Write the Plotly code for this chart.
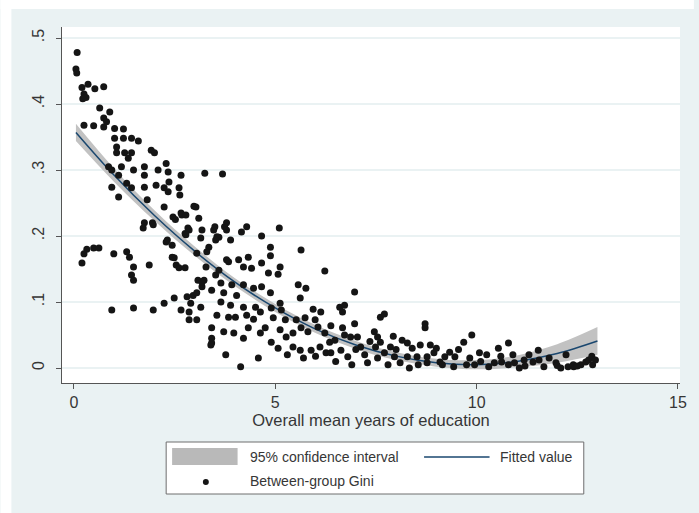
import plotly.graph_objects as go

# Overall mean years of education (x) and between-group Gini (y) per observation
edu_years = [
    0.08, 0.05, 0.07, 0.20, 0.25, 0.30, 0.35, 0.22, 0.52, 0.74, 0.64, 0.89, 0.74, 0.25, 0.49,
    0.74, 0.81, 1.01, 1.23, 1.01, 1.23, 1.43, 1.60, 1.06, 1.06, 1.26, 1.43, 1.35, 1.92, 2.00,
    0.86, 0.94, 1.18, 1.48, 1.75, 1.75, 2.09, 2.29, 2.34, 2.66, 0.94, 1.11, 1.31, 1.43, 1.75,
    2.04, 2.24, 2.34, 2.61, 2.36, 1.11, 1.82, 2.24, 2.98, 3.25, 3.69, 2.63, 2.46, 2.68, 2.86,
    3.10, 3.15, 3.35, 3.47, 3.60, 3.79, 3.89, 4.16, 4.29, 4.66, 4.88, 5.10, 5.64, 2.32, 2.44,
    1.75, 1.95, 1.72, 2.76, 3.18, 0.32, 0.49, 0.62, 0.25, 0.20, 0.99, 1.31, 1.38, 1.48, 1.43,
    1.48, 1.87, 0.94, 1.48, 1.97, 2.24, 2.49, 2.66, 2.86, 2.81, 2.90, 1.97, 2.52, 2.66, 2.78,
    2.83, 2.78, 2.29, 2.49, 2.54, 2.61, 2.76, 3.08, 2.96, 2.86, 3.03, 3.50, 3.74, 3.79, 3.55,
    3.52, 3.05, 3.30, 4.33, 4.88, 3.79, 4.66, 5.12, 3.28, 4.21, 4.83, 5.07, 6.23, 3.52, 3.65,
    3.18, 3.92, 4.21, 4.46, 4.66, 5.57, 5.76, 3.05, 3.42, 3.72, 4.04, 4.88, 5.62, 3.15, 3.65,
    3.89, 4.21, 4.51, 5.12, 4.63, 4.90, 5.15, 5.94, 6.13, 3.05, 3.55, 3.84, 4.01, 4.29, 4.46,
    4.95, 5.25, 5.52, 5.74, 5.99, 3.42, 3.72, 3.97, 4.21, 4.33, 4.63, 4.75, 5.12, 5.27, 5.44,
    5.64, 5.81, 6.06, 6.23, 3.42, 3.42, 3.77, 4.14, 4.58, 4.90, 5.07, 5.44, 5.62, 5.89, 6.11,
    6.26, 6.35, 2.44, 3.23, 3.60, 3.84, 4.09, 4.41, 3.18, 3.40, 6.97, 6.60, 6.72, 6.67, 6.38,
    6.67, 6.97, 7.61, 7.71, 6.72, 6.87, 7.04, 7.46, 7.54, 7.93, 8.72, 8.72, 6.48, 6.63, 6.80,
    7.12, 7.22, 7.49, 7.61, 7.71, 7.86, 7.54, 7.96, 8.28, 8.40, 8.60, 8.28, 8.52, 8.33, 8.77,
    8.94, 9.09, 8.77, 9.21, 9.33, 9.46, 9.43, 9.68, 6.38, 7.29, 8.10, 9.88, 10.79, 10.54, 10.07,
    10.25, 9.83, 9.75, 9.95, 10.30, 10.44, 10.62, 10.79, 10.94, 11.06, 11.18, 11.30, 11.40, 11.53, 11.55,
    11.67, 11.80, 11.97, 12.09, 12.27, 12.41, 12.22, 12.59, 12.71, 12.78, 12.88, 12.86, 12.95, 12.40, 12.50,
    12.00, 5.30, 5.70, 6.00, 6.50, 6.90, 7.00, 7.35, 8.00, 8.15, 8.85, 9.00, 9.55, 9.15, 8.55,
    7.80, 10.10, 10.60, 10.90, 11.20,
]
gini = [
    0.478, 0.453, 0.447, 0.425, 0.415, 0.410, 0.430, 0.408, 0.423, 0.426, 0.394, 0.388, 0.379, 0.368, 0.367,
    0.365, 0.373, 0.363, 0.362, 0.348, 0.348, 0.348, 0.344, 0.335, 0.326, 0.326, 0.326, 0.318, 0.330, 0.326,
    0.305, 0.300, 0.305, 0.300, 0.305, 0.292, 0.300, 0.310, 0.297, 0.292, 0.274, 0.292, 0.280, 0.273, 0.274,
    0.277, 0.273, 0.267, 0.273, 0.282, 0.259, 0.255, 0.244, 0.245, 0.295, 0.294, 0.262, 0.229, 0.232, 0.209,
    0.227, 0.197, 0.183, 0.209, 0.198, 0.220, 0.194, 0.206, 0.214, 0.200, 0.183, 0.212, 0.179, 0.194, 0.186,
    0.220, 0.220, 0.212, 0.204, 0.209, 0.180, 0.182, 0.182, 0.173, 0.159, 0.173, 0.176, 0.168, 0.153, 0.141,
    0.133, 0.156, 0.088, 0.091, 0.088, 0.098, 0.106, 0.088, 0.085, 0.108, 0.098, 0.217, 0.225, 0.235, 0.232,
    0.212, 0.202, 0.191, 0.167, 0.156, 0.152, 0.152, 0.133, 0.110, 0.073, 0.244, 0.214, 0.214, 0.209, 0.199,
    0.194, 0.174, 0.176, 0.168, 0.170, 0.164, 0.159, 0.153, 0.153, 0.153, 0.144, 0.142, 0.147, 0.141, 0.129,
    0.123, 0.126, 0.126, 0.121, 0.123, 0.126, 0.121, 0.114, 0.118, 0.114, 0.110, 0.114, 0.106, 0.092, 0.100,
    0.095, 0.092, 0.092, 0.098, 0.085, 0.091, 0.088, 0.089, 0.085, 0.073, 0.080, 0.077, 0.077, 0.080, 0.074,
    0.076, 0.073, 0.073, 0.076, 0.073, 0.061, 0.055, 0.053, 0.045, 0.061, 0.053, 0.061, 0.058, 0.047, 0.053,
    0.061, 0.055, 0.062, 0.053, 0.045, 0.038, 0.020, 0.002, 0.015, 0.039, 0.030, 0.032, 0.027, 0.027, 0.032,
    0.023, 0.039, 0.168, 0.133, 0.148, 0.161, 0.164, 0.151, 0.130, 0.035, 0.115, 0.092, 0.095, 0.085, 0.064,
    0.061, 0.067, 0.077, 0.082, 0.050, 0.047, 0.047, 0.055, 0.047, 0.048, 0.067, 0.061, 0.042, 0.027, 0.017,
    0.032, 0.020, 0.032, 0.039, 0.023, 0.032, 0.015, 0.017, 0.038, 0.030, 0.035, 0.017, 0.017, 0.000, 0.017,
    0.023, 0.009, 0.008, 0.017, 0.024, 0.017, 0.002, 0.039, 0.023, 0.008, 0.008, 0.050, 0.038, 0.030, 0.023,
    0.020, 0.015, 0.005, 0.005, 0.002, 0.008, 0.009, 0.005, 0.008, 0.000, 0.012, 0.020, 0.009, 0.027, 0.012,
    0.002, 0.015, 0.008, 0.000, 0.002, 0.002, 0.020, 0.005, 0.009, 0.012, 0.005, 0.018, 0.012, 0.005, 0.003,
    0.004, 0.020, 0.015, 0.018, 0.010, 0.005, 0.028, 0.040, 0.028, 0.042, 0.035, 0.030, 0.028, 0.005, 0.005,
    0.005, 0.010, 0.018, 0.020, 0.003,
]

# Quadratic fitted values with the 95% confidence band
fit_x = [0.05, 1, 2, 3, 4, 5, 6, 7, 8, 9, 10, 11, 12, 13]
fit_y = [0.357, 0.292, 0.231, 0.177, 0.130, 0.091, 0.059, 0.035, 0.018, 0.008, 0.005, 0.010, 0.022, 0.041]
ci_low = [0.344, 0.282, 0.223, 0.170, 0.124, 0.085, 0.053, 0.029, 0.012, 0.002, -0.002, 0.001, 0.008, 0.020]
ci_high = [0.370, 0.302, 0.239, 0.184, 0.136, 0.097, 0.065, 0.041, 0.024, 0.014, 0.012, 0.019, 0.036, 0.062]

x_ticks = [0, 5, 10, 15]
y_ticks = [0, 0.1, 0.2, 0.3, 0.4, 0.5]
y_tick_labels = ["0", ".1", ".2", ".3", ".4", ".5"]

BG = "#EAF2F3"
FONT = "Liberation Sans, Arial, sans-serif"
TEXT = "#363636"
NAVY = "#1a476f"
W, H = 699, 513
L, R, T, B = 62, 14, 27, 130
PW, PH = W - L - R, H - T - B


def px_x(p):
    return (p - L) / PW


def px_y(p):
    return (H - B - p) / PH


fig = go.Figure()
fig.add_trace(go.Scatter(x=fit_x, y=ci_high, mode="lines", line=dict(width=0, shape="spline"),
                         showlegend=False, hoverinfo="skip"))
fig.add_trace(go.Scatter(x=fit_x, y=ci_low, mode="lines", line=dict(width=0, shape="spline"),
                         fill="tonexty", fillcolor="#c2c2c2", name="95% confidence interval",
                         showlegend=False))
fig.add_trace(go.Scatter(x=fit_x, y=fit_y, mode="lines", line=dict(color=NAVY, width=1.5, shape="spline"),
                         name="Fitted value", showlegend=False))
fig.add_trace(go.Scatter(x=edu_years, y=gini, mode="markers",
                         marker=dict(color="#151515", size=7, line=dict(width=0)),
                         name="Between-group Gini", showlegend=False))

shapes = [
    # white strips at the top and left edges of the page
    dict(type="rect", xref="paper", yref="paper", x0=px_x(0), x1=px_x(W), y0=px_y(9), y1=px_y(0),
         fillcolor="white", line=dict(width=0), layer="below"),
    dict(type="rect", xref="paper", yref="paper", x0=px_x(0), x1=px_x(11), y0=px_y(H), y1=px_y(0),
         fillcolor="white", line=dict(width=0), layer="below"),
    # legend frame
    dict(type="rect", xref="paper", yref="paper", x0=px_x(167), x1=px_x(588), y0=px_y(494), y1=px_y(442),
         fillcolor="white", line=dict(color="#6e6e6e", width=1)),
    # legend keys
    dict(type="rect", xref="paper", yref="paper", x0=px_x(173), x1=px_x(239), y0=px_y(465), y1=px_y(448),
         fillcolor="#b9b9b9", line=dict(width=0)),
    dict(type="line", xref="paper", yref="paper", x0=px_x(427), x1=px_x(493), y0=px_y(457), y1=px_y(457),
         line=dict(color=NAVY, width=1.5)),
    dict(type="circle", xref="paper", yref="paper", x0=px_x(204), x1=px_x(210), y0=px_y(485), y1=px_y(479),
         fillcolor="#151515", line=dict(width=0)),
]

legend_font = dict(family=FONT, size=14, color=TEXT)
annotations = [
    dict(text="95% confidence interval", x=px_x(250), y=px_y(457)),
    dict(text="Fitted value", x=px_x(502), y=px_y(457)),
    dict(text="Between-group Gini", x=px_x(250), y=px_y(481)),
]
for a in annotations:
    a.update(xref="paper", yref="paper", xanchor="left", yanchor="middle", showarrow=False, font=legend_font)

fig.update_layout(
    width=W, height=H,
    margin=dict(l=L, r=R, t=T, b=B),
    paper_bgcolor=BG, plot_bgcolor="white",
    font=dict(family=FONT, color=TEXT),
    shapes=shapes, annotations=annotations,
    showlegend=False,
    xaxis=dict(range=[-0.296, 15.05], tickvals=x_ticks, ticks="outside", ticklen=5, tickcolor="#555",
               showline=True, linecolor="#555", linewidth=1, showgrid=False, zeroline=False,
               tickfont=dict(size=16, color=TEXT),
               title=dict(text="Overall mean years of education", font=dict(size=16.5, color=TEXT), standoff=4)),
    yaxis=dict(range=[-0.0227, 0.5167], tickvals=y_ticks, ticktext=y_tick_labels, tickangle=-90,
               ticks="outside", ticklen=5, tickcolor="#555", showline=True, linecolor="#555", linewidth=1,
               showgrid=True, gridcolor=BG, gridwidth=1.5, zeroline=False, ticklabelstandoff=6,
               tickfont=dict(size=16, color=TEXT)),
)

fig.write_html("out.html")
